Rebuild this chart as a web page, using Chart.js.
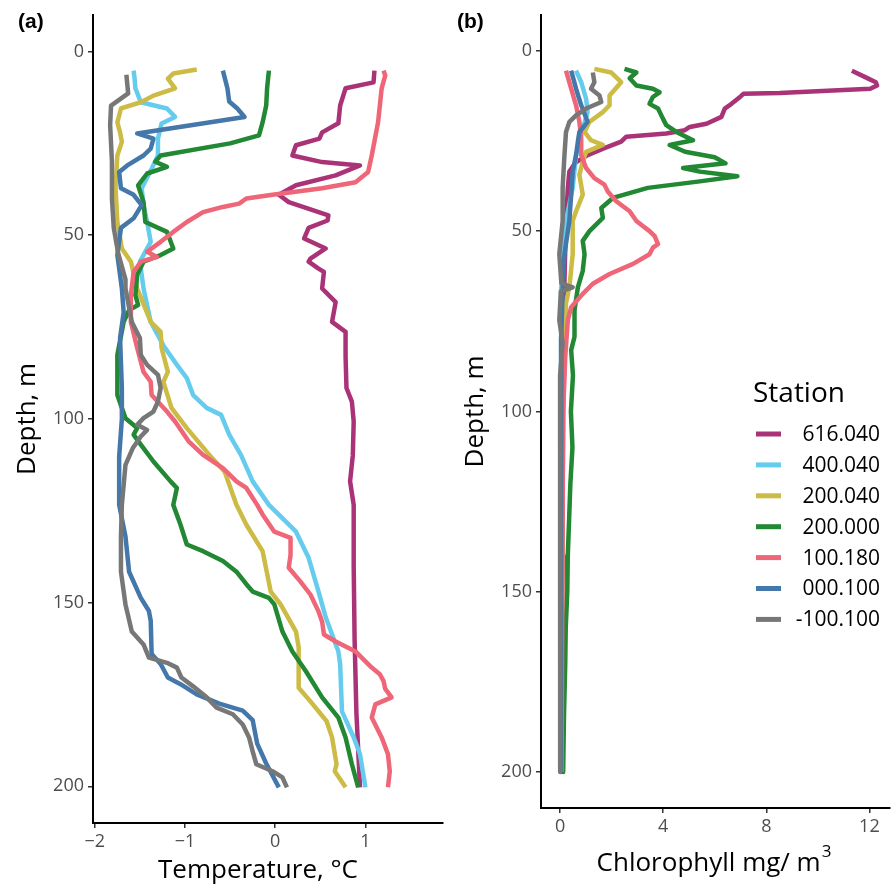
<!DOCTYPE html>
<html>
<head>
<meta charset="utf-8">
<title>Station profiles</title>
<script src="https://cdn.jsdelivr.net/npm/chart.js@4.4.1/dist/chart.umd.min.js"></script>
<style>
  html, body { margin: 0; padding: 0; background: #fff; }
  #figure { position: relative; width: 896px; height: 888px; overflow: hidden; }
  .panel { position: absolute; top: 0; width: 448px; height: 888px; }
  .tag { position: absolute; top: 9px; font: bold 21px "Liberation Sans", Arial, sans-serif; color: #000; }
</style>
</head>
<body>
<div id="figure">
  <div class="panel" style="left:0"><canvas id="tempChart" width="448" height="888"></canvas></div>
  <div class="panel" style="left:448px"><canvas id="chlChart" width="448" height="888"></canvas></div>
  <div class="tag" style="left:18px">(a)</div>
  <div class="tag" style="left:457px">(b)</div>
</div>
<script>
const stations = ['616.040', '400.040', '200.040', '200.000', '100.180', '000.100', '-100.100'];
const stationColors = ['#AA3377', '#66CCEE', '#CCBB44', '#228833', '#EE6677', '#4477AA', '#777777'];

const depthTicks = [0, 50, 100, 150, 200];
const tempTicks = [-2, -1, 0, 1];
const tempTickLabels = ['\u22122', '\u22121', '0', '1'];
const chlTicks = [0, 4, 8, 12];
const chlTickLabels = ['0', '4', '8', '12'];

// temperature profiles: [depth m, temperature °C]
const temp616 = [[5.2,1.10],[8.4,1.09],[10,0.78],[14.7,0.72],[19.5,0.70],[22,0.52],[23.7,0.49],[25.5,0.23],[28.3,0.19],[30.1,0.52],[31,0.94],[33.7,0.67],[36.4,0.23],[39,0.04],[41,0.15],[44.6,0.59],[46,0.58],[48,0.37],[50.9,0.32],[53.6,0.56],[56.4,0.39],[57.2,0.37],[59.1,0.48],[60,0.54],[64.5,0.52],[68.2,0.67],[73.6,0.63],[76.3,0.78],[83,0.78],[91.6,0.79],[95.3,0.85],[100.7,0.87],[110,0.86],[117,0.83],[123.4,0.87],[140,0.87],[160,0.88],[180,0.90],[200.3,0.94]];
const temp400 = [[5.2,-1.57],[7,-1.56],[10,-1.55],[13.8,-1.49],[15.5,-1.20],[17.8,-1.11],[19.6,-1.26],[23.7,-1.30],[28.3,-1.30],[31.9,-1.37],[37.2,-1.48],[41.8,-1.46],[46.4,-1.42],[51.8,-1.38],[57.2,-1.50],[64.5,-1.46],[73.6,-1.38],[80,-1.24],[85.3,-1.09],[88.9,-0.98],[93.5,-0.91],[97,-0.76],[98.9,-0.60],[104.3,-0.51],[109.8,-0.38],[117,-0.25],[123.4,-0.07],[130.7,0.23],[137.8,0.37],[147,0.48],[154,0.56],[163.3,0.70],[166.8,0.72],[179.6,0.74],[186.7,0.87],[191.3,0.94],[200.3,1.00]];
const temp200b = [[4.9,-0.87],[6,-1.13],[7.4,-1.19],[10,-1.11],[12,-1.35],[13.8,-1.49],[15.5,-1.71],[19.3,-1.75],[22,-1.72],[24.6,-1.70],[28.3,-1.75],[37.2,-1.77],[46.4,-1.75],[53.6,-1.70],[57.2,-1.60],[64.5,-1.53],[73.6,-1.38],[76.3,-1.27],[80.7,-1.26],[87.2,-1.19],[89.9,-1.24],[97,-1.15],[102.5,-0.98],[109.8,-0.73],[114.4,-0.56],[123.4,-0.43],[128.8,-0.32],[136,-0.14],[147,-0.05],[150.5,0.06],[157.9,0.23],[162.2,0.26],[168.7,0.26],[173.2,0.26],[176.9,0.39],[182.3,0.57],[186.7,0.63],[194,0.68],[195.9,0.66],[200.3,0.78]];
const temp200a = [[5.2,-0.07],[10,-0.09],[14.7,-0.10],[19.3,-0.14],[22.8,-0.18],[25,-0.50],[28.3,-1.27],[30,-1.33],[31.4,-1.20],[33.2,-1.42],[36.4,-1.52],[41,-1.46],[46.4,-1.44],[49.1,-1.20],[53.6,-1.13],[55.4,-1.27],[57.2,-1.46],[60.8,-1.53],[66.3,-1.55],[69,-1.52],[70.4,-1.62],[73.6,-1.68],[82.6,-1.75],[93.5,-1.75],[99.8,-1.66],[102.5,-1.53],[104.3,-1.57],[107,-1.49],[111.6,-1.35],[117,-1.16],[118.8,-1.09],[123.4,-1.13],[128.8,-1.05],[134.2,-0.98],[136,-0.80],[138.7,-0.58],[141.6,-0.43],[145,-0.32],[147,-0.25],[148.7,-0.07],[150.5,-0.01],[157.9,0.08],[163.3,0.19],[168.7,0.34],[175.8,0.52],[181.3,0.70],[186.7,0.78],[194,0.85],[200.3,0.92]];
const temp100 = [[5.2,1.20],[6.5,1.22],[10,1.18],[19.3,1.14],[28.3,1.07],[32.8,1.03],[35.6,0.89],[37.2,0.52],[39,-0.03],[40,-0.32],[41.4,-0.40],[42.3,-0.58],[43.7,-0.80],[46.4,-0.98],[49.1,-1.13],[51.8,-1.27],[54.5,-1.42],[55.9,-1.31],[57.2,-1.49],[60,-1.57],[66.3,-1.60],[73.6,-1.60],[80.7,-1.53],[87.2,-1.46],[89.9,-1.38],[93.5,-1.37],[98,-1.20],[100.7,-1.11],[106.1,-0.96],[109.8,-0.80],[113.4,-0.58],[117,-0.43],[118.8,-0.32],[123.4,-0.20],[126,-0.14],[130.7,-0.01],[132.4,0.17],[137,0.17],[140.5,0.15],[144.3,0.28],[147.8,0.39],[152.4,0.48],[155.2,0.52],[158.7,0.54],[160.6,0.67],[163.3,0.89],[166,1.00],[167.7,1.07],[169.5,1.16],[171.3,1.20],[173.5,1.22],[175.8,1.29],[177.7,1.11],[181.3,1.07],[186.7,1.18],[191.3,1.25],[195.9,1.27],[200.3,1.25]];
const temp000 = [[5.2,-0.58],[10,-0.53],[13.6,-0.51],[15.5,-0.42],[17.8,-0.34],[22.3,-1.53],[23.7,-1.35],[26.4,-1.38],[28.3,-1.46],[31,-1.64],[32.8,-1.73],[37.2,-1.71],[39,-1.57],[41.8,-1.48],[45.4,-1.57],[48,-1.71],[55.4,-1.75],[64.5,-1.70],[71,-1.68],[78,-1.72],[91.6,-1.70],[100,-1.70],[110.3,-1.73],[123.4,-1.73],[132,-1.66],[141.6,-1.62],[148.7,-1.49],[152.3,-1.40],[155,-1.38],[164,-1.37],[166.7,-1.27],[170.4,-1.19],[172.2,-1.05],[175,-0.87],[177.5,-0.62],[179.4,-0.36],[182,-0.25],[188.4,-0.20],[193.8,-0.10],[200.3,0.04]];
const tempNeg100 = [[6.3,-1.65],[11.4,-1.63],[14.7,-1.82],[20,-1.83],[30,-1.81],[40,-1.81],[48,-1.79],[55,-1.74],[62,-1.66],[64.5,-1.66],[73.6,-1.59],[78,-1.50],[82.6,-1.49],[85.3,-1.42],[88,-1.30],[91.6,-1.27],[95.3,-1.30],[98,-1.35],[99.8,-1.46],[101.6,-1.53],[103,-1.42],[104.8,-1.49],[108,-1.58],[112.5,-1.66],[123.4,-1.70],[132,-1.71],[141.6,-1.71],[150.5,-1.66],[157.9,-1.59],[161.4,-1.46],[165,-1.40],[166.4,-1.20],[167.7,-1.09],[170.4,-1.04],[172.8,-0.91],[175.8,-0.76],[178.6,-0.65],[180.4,-0.47],[183.2,-0.36],[186.7,-0.29],[190.5,-0.25],[194,-0.21],[195.9,-0.03],[197.6,0.08],[200.3,0.13]];

// chlorophyll profiles: [depth m, chlorophyll mg/m3]
const chl616 = [[5.5,11.32],[7.5,11.9],[8.7,12.25],[9.6,12.30],[10.5,12.03],[11.7,8.52],[11.9,7.11],[12.8,6.98],[14.7,6.65],[16,6.39],[18.3,6.26],[20.2,5.68],[21.1,5.03],[22,4.84],[22.9,4.12],[23.8,2.57],[25.2,2.37],[27,1.72],[28.9,1.07],[31,0.6],[33.5,0.36],[38,0.30],[45,0.25],[55,0.2],[70,0.15],[100,0.1],[150,0.08],[200,0.05]];
const chl400 = [[5.5,0.62],[8.7,0.82],[13.3,1.01],[17,1.07],[21.5,0.88],[28.9,0.62],[38,0.49],[47.2,0.23],[56.4,0.1],[65.6,0.05],[100,0.04],[150,0.03],[200,0.03]];
const chl200b = [[5,1.33],[6,1.98],[8.7,2.37],[12.4,1.92],[15.1,1.92],[17,1.66],[19.7,1.14],[22.5,0.95],[24.8,1.2],[26.1,1.66],[28,1.01],[30.7,0.88],[34.4,0.75],[39.9,0.88],[44.5,0.62],[47.2,0.49],[56.4,0.49],[65.6,0.36],[70,0.23],[90,0.15],[120,0.1],[160,0.08],[200,0.06]];
const chl200a = [[5,2.5],[6,2.96],[7.6,2.7],[9.6,2.96],[10.5,3.6],[11.5,3.86],[12.8,3.6],[14.7,3.47],[16,3.8],[18.8,3.99],[20.6,4.12],[22.5,4.51],[24.8,5.16],[26.1,4.25],[28,4.85],[29.5,6.0],[31.2,6.42],[32.5,4.77],[33.5,5.42],[34.8,6.88],[36.2,5.42],[38,3.4],[40.8,2.05],[43.6,1.6],[46.3,1.66],[50,1.14],[52.7,0.88],[56.4,0.95],[61,0.88],[65.6,0.69],[72,0.56],[79.3,0.56],[83,0.43],[90,0.5],[100,0.42],[110,0.48],[120,0.40],[130,0.35],[140,0.30],[150,0.28],[160,0.22],[170,0.2],[185,0.15],[200,0.12]];
const chl100 = [[5.5,0.23],[10.5,0.43],[15.1,0.62],[19.7,0.75],[24.3,0.82],[28.9,0.82],[32.5,1.01],[35.3,1.33],[37.1,1.72],[39,1.85],[41.7,2.18],[44.5,2.7],[47.2,2.96],[50,3.47],[51.4,3.67],[53.6,3.8],[54.6,3.6],[56.4,3.47],[59.1,2.83],[61.9,1.92],[64.6,1.27],[67.4,0.88],[71.1,0.43],[74.7,0.3],[85,0.2],[100,0.12],[130,0.1],[160,0.08],[200,0.06]];
const chl000 = [[5.5,0.43],[10.5,0.62],[15.1,0.82],[19.7,1.07],[22.5,0.75],[25.2,0.69],[28.9,0.62],[33.5,0.49],[39.9,0.43],[47.2,0.36],[56.4,0.17],[65.6,0.10],[79.3,0.05],[120,0.04],[200,0.03]];
const chlNeg100 = [[6,1.27],[8.7,1.33],[10.5,1.2],[12.4,1.53],[14.2,1.6],[16,1.01],[17.9,0.62],[19.7,0.36],[22.5,0.23],[28.9,0.17],[38,0.1],[47.2,0.1],[56.4,-0.03],[64.5,0.05],[65.6,0.49],[66.7,0.03],[74.7,-0.03],[81,0.1],[90,0.0],[100,0.02],[120,0.0],[150,0.0],[175,0.0],[200,0.0]];

const tempProfiles = [temp616, temp400, temp200b, temp200a, temp100, temp000, tempNeg100];
const chlProfiles = [chl616, chl400, chl200b, chl200a, chl100, chl000, chlNeg100];

const FONT = '"Open Sans", "DejaVu Sans", sans-serif';
const tickFont = { family: FONT, size: 18 };

// last station in the list is painted on top
function makeDatasets(profiles) {
  return profiles.map((rows, i) => ({
    label: stations[i],
    data: rows.map(([depth, value]) => ({ x: value, y: depth })),
    borderColor: stationColors[i],
    backgroundColor: stationColors[i],
    borderWidth: 4.5,
    borderJoinStyle: 'round',
    showLine: true,
    pointRadius: 0,
    pointHoverRadius: 0,
    tension: 0,
    order: profiles.length - 1 - i
  }));
}

function valueAxis(min, max, ticks, labels, height) {
  return {
    type: 'linear',
    position: 'bottom',
    min, max,
    afterBuildTicks: s => { s.ticks = ticks.map(v => ({ value: v })); },
    afterFit: s => { s.height = height; },
    ticks: {
      callback: v => labels[ticks.indexOf(v)],
      color: '#4D4D4D', font: tickFont, padding: 3, maxRotation: 0, autoSkip: false
    },
    grid: { drawOnChartArea: false, tickLength: 5, color: '#333', lineWidth: 1.5 },
    border: { display: true, color: '#000', width: 2 },
    title: { display: false }
  };
}

function depthAxis() {
  return {
    type: 'linear',
    position: 'left',
    reverse: true,
    min: -10, max: 210,
    afterBuildTicks: s => { s.ticks = depthTicks.map(v => ({ value: v })); },
    afterFit: s => { s.width = 93; },
    ticks: { color: '#4D4D4D', font: tickFont, padding: 4 },
    grid: { drawOnChartArea: false, tickLength: 5, color: '#333', lineWidth: 1.5 },
    border: { display: true, color: '#000', width: 2 },
    title: { display: true, text: 'Depth, m', color: '#000', font: { family: FONT, size: 26 }, padding: { top: 12, bottom: 0 } }
  };
}

// x-axis title with an optional superscript tail, centred at cx
function xTitle(text, sup, cx, cy) {
  return {
    id: 'xTitle',
    afterDraw(chart) {
      const { ctx } = chart;
      ctx.save();
      ctx.fillStyle = '#000';
      ctx.textBaseline = 'middle';
      ctx.textAlign = 'left';
      ctx.font = '26px ' + FONT;
      const w = ctx.measureText(text).width;
      ctx.font = '17px ' + FONT;
      const ws = sup ? ctx.measureText(sup).width + 1 : 0;
      const x0 = cx - (w + ws) / 2;
      ctx.font = '26px ' + FONT;
      ctx.fillText(text, x0, cy);
      if (sup) {
        ctx.font = '17px ' + FONT;
        ctx.fillText(sup, x0 + w + 1, cy - 12);
      }
      ctx.restore();
    }
  };
}

const stationLegend = {
  id: 'stationLegend',
  afterDraw(chart) {
    const { ctx } = chart;
    ctx.save();
    ctx.fillStyle = '#000';
    ctx.textAlign = 'left';
    ctx.textBaseline = 'alphabetic';
    ctx.font = '28px ' + FONT;
    ctx.fillText('Station', 305, 402);
    ctx.font = '21px ' + FONT;
    ctx.textAlign = 'right';
    ctx.textBaseline = 'middle';
    stations.forEach((name, i) => {
      const y = 434 + i * 30.9;
      ctx.strokeStyle = stationColors[i];
      ctx.lineWidth = 5;
      ctx.beginPath();
      ctx.moveTo(308, y);
      ctx.lineTo(333, y);
      ctx.stroke();
      ctx.fillText(name, 432, y + 1);
    });
    ctx.restore();
  }
};

const baseOptions = {
  responsive: false,
  animation: false,
  devicePixelRatio: 1,
  events: [],
  plugins: { legend: { display: false }, tooltip: { enabled: false } }
};

new Chart(document.getElementById('tempChart'), {
  type: 'scatter',
  data: { datasets: makeDatasets(tempProfiles) },
  options: {
    ...baseOptions,
    layout: { autoPadding: false, padding: { top: 9, right: 5, left: 0, bottom: 0 } },
    scales: {
      x: valueAxis(-2.02, 1.86, tempTicks, tempTickLabels, 65),
      y: depthAxis()
    }
  },
  plugins: [xTitle('Temperature, °C', '', 258, 871)]
});

new Chart(document.getElementById('chlChart'), {
  type: 'scatter',
  data: { datasets: makeDatasets(chlProfiles) },
  options: {
    ...baseOptions,
    layout: { autoPadding: false, padding: { top: 9, right: 6, left: 0, bottom: 0 } },
    scales: {
      x: valueAxis(-0.74, 12.8, chlTicks, chlTickLabels, 80),
      y: depthAxis()
    }
  },
  plugins: [xTitle('Chlorophyll mg/ m', '3', 266, 864), stationLegend]
});
</script>
</body>
</html>
